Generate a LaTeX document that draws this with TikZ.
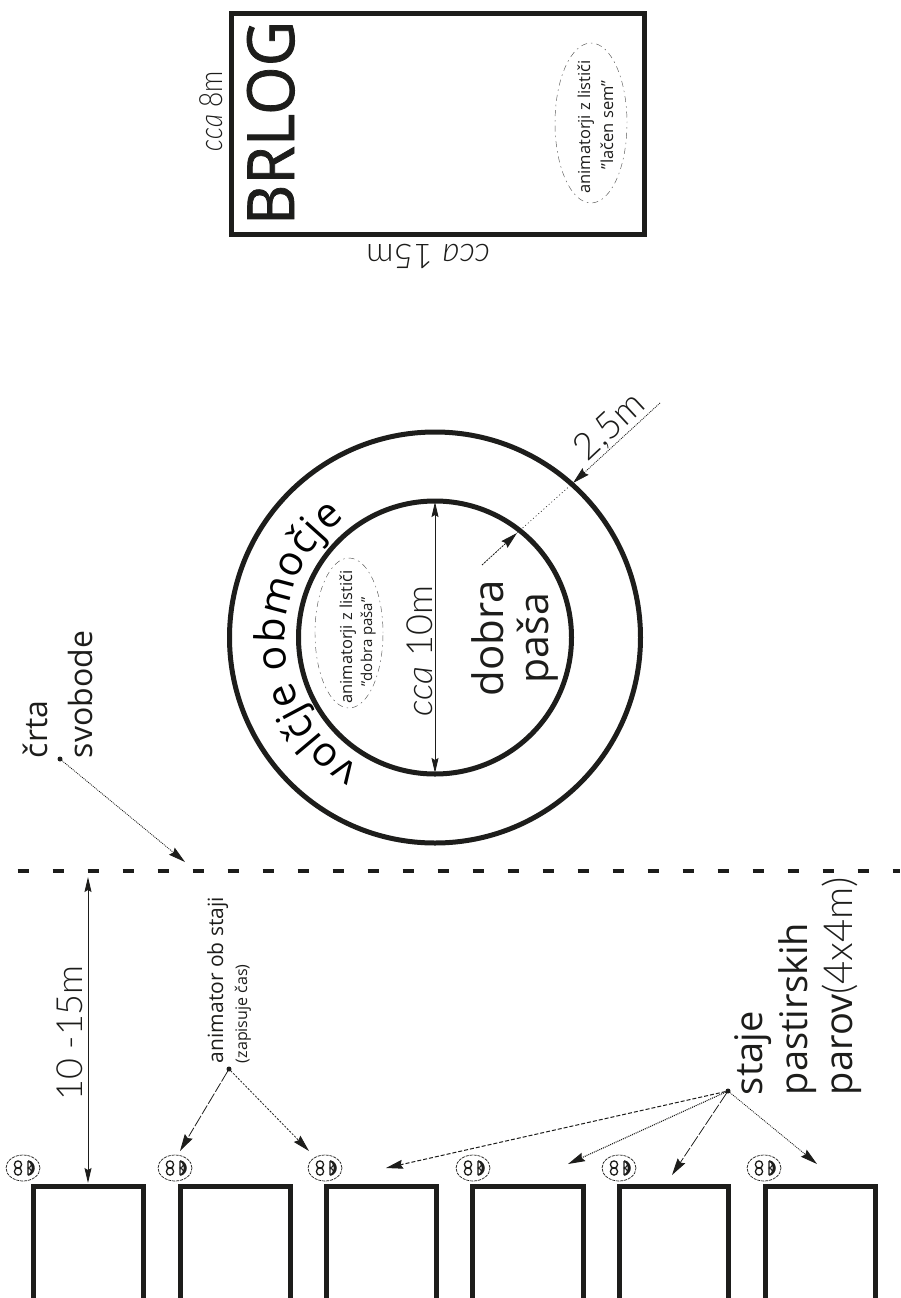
\documentclass[tikz,border=0pt]{standalone}
\usepackage{fontspec}
\usepackage{graphicx}
\setmainfont{Open Sans}
\newfontfamily\lt{Lato Light}
\newfontfamily\hv[FakeBold=1.2]{Open Sans}
\usetikzlibrary{arrows.meta,shapes.geometric,decorations.text}
\definecolor{ink}{HTML}{1D1D1B}
\newcommand{\fs}[1]{\fontsize{#1pt}{#1pt}\selectfont}
\tikzset{
  x=1pt,y=1pt,
  every node/.style={inner sep=0,outer sep=0,text=ink},
  heavy/.style={draw=ink,line width=5pt},
  stable/.style={heavy,rectangle,anchor=north,minimum width=110pt,minimum height=125pt},
  ring/.style={heavy,circle},
  tag/.style={rotate=90,anchor=base west},
  midtag/.style={rotate=90,anchor=base},
  dot/.style={circle,fill=ink,minimum size=5pt},
  tip/.style={-{Stealth[length=17pt,width=9pt,inset=2pt]}},
  twotip/.style={{Stealth[length=15pt,width=7pt,inset=2pt]}-{Stealth[length=15pt,width=7pt,inset=2pt]}},
  thin line/.style={draw=ink,line width=.8pt},
  dots/.style={thin line,dash pattern=on 1pt off 1pt},
  dashes/.style={thin line,dash pattern=on 4pt off 2pt},
  long/.style={thin line,dash pattern=on 12pt off 2pt on 10pt off 2pt},
  cloud/.style={draw=ink!75,line width=.45pt,ellipse,dash pattern=on 1.5pt off 4pt on 6pt off 4pt},
  pics/smile/.style={code={
    \draw[ink,line width=.7pt,dash pattern=on 3pt off 1pt] (0,0) ellipse (17pt and 13pt);
    \draw[ink,line width=1.3pt] (-5,3.5) circle (3.6pt) (-5,-3.5) circle (3.6pt);
    \fill[ink] (5,8) .. controls (14,6) and (14,-6) .. (5,-8) .. controls (10,-3) and (10,3) .. (5,8) -- cycle;
    \draw[ink,line width=1.1pt] (5,7) -- (5,-7) (5,7) .. controls (10,5) and (9,1) .. (5,0) .. controls (9,-1) and (10,-5) .. (5,-7);
  }}
}
\begin{document}
\begin{tikzpicture}
\useasboundingbox (0,0) rectangle (900,-1298);
\clip (0,0) rectangle (900,-1298);

% den
\node[heavy,rectangle,minimum width=413pt,minimum height=221pt] (den) at (438,-124) {};
\node[midtag] (brlog) at (294,-123) {\hv\fs{65}\scalebox{.96}[1]{BRLOG}};
\node[midtag] (den8) at (222,-111) {\lt\fs{32}\scalebox{.82}[1]{{\itshape cca} 8m}};
\node[rotate=180,anchor=center] (den15) at (428,-256) {\lt\fs{34}{\itshape cca} 15m};
\node[cloud,minimum width=72pt,minimum height=160pt] (cloudA) at (591,-123) {};
\node[midtag] (cloudAa) at (590,-127) {\fs{16.5}animatorji z lističi};
\node[midtag] (cloudAb) at (613,-125) {\fs{16.5}"lačen sem"};

% rings
\node[ring,minimum size=411pt] (outer) at (435,-637.5) {};
\node[ring,minimum size=273pt] (inner) at (435,-637.5) {};
\path[decorate,decoration={text along path,text align={fit to path},
  text={|\fs{41}|volčje območje}}]
  (435,-637.5) ++(240:150pt) arc[start angle=240,end angle=127,radius=150pt];
\node[cloud,minimum width=68pt,minimum height=150pt] (cloudB) at (349,-633) {};
\node[midtag] (cloudBa) at (352,-637) {\fs{16.5}animatorji z lističi};
\node[midtag] (cloudBb) at (372,-642) {\fs{15}"dobra paša"};
\node[midtag] (ten) at (432,-651) {\lt\fs{36}{\itshape cca} 10m};
\node[midtag] (dobra) at (503,-638) {\fs{42}dobra};
\node[midtag] (pasa) at (548,-638) {\fs{41}paša};
\draw[thin line,twotip] ([yshift=-1pt]inner.north) -- ([yshift=1pt]inner.south);

\coordinate (rFar) at (660,-403);
\coordinate (rA) at (573,-483);
\coordinate (rB) at (517,-533);
\coordinate (rNear) at (482,-565);
\draw[dots,tip] (rFar) -- (rA);
\draw[dots,line width=.6pt,dash pattern=on 1pt off 2.5pt] (rA) -- (rB);
\draw[dashes,dash pattern=on 2pt off 1pt,tip] (rNear) -- (rB);
\node[rotate=43,anchor=center] (rlabel) at (610,-427) {\lt\fs{37}2,5m};

% freedom line
\coordinate (lineL) at (17.5,-871);
\coordinate (lineR) at (900,-871);
\draw[ink,line width=4pt,dash pattern=on 11pt off 24pt] (lineL) -- (lineR);
\node[tag] (crta) at (47,-758) {\fs{32}črta};
\node[tag] (svobode) at (92,-758) {\fs{32}svobode};
\node[dot] (dotA) at (60,-759) {};
\coordinate (lineHit) at (185,-862);
\draw[dots,tip] (dotA) -- (lineHit);

% stables
\node[stable] (s1) at (88.5,-1186) {};
\node[stable] (s2) at (235,-1186) {};
\node[stable] (s3) at (381,-1186) {};
\node[stable,minimum width=111pt] (s4) at (527.5,-1186) {};
\node[stable,minimum width=109pt] (s5) at (673.5,-1186) {};
\node[stable] (s6) at (820,-1186) {};
\pic at (23,-1168) {smile};
\pic at (175,-1168) {smile};
\pic at (325,-1168) {smile};
\pic at (473,-1168) {smile};
\pic at (619,-1168) {smile};
\pic at (764,-1168) {smile};

% distance
\coordinate (dTop) at (88,-877);
\draw[thin line,line width=.9pt,twotip] (dTop) -- ([yshift=3pt]s1.north -| dTop);
\node[midtag] (dist) at (82,-1033) {\lt\fs{36}10 -15m};

% animator
\node[tag] (anim) at (223,-1063) {\fs{21}animator ob staji};
\node[tag] (zap) at (247,-1063) {\fs{16}(zapisuje čas)};
\node[dot] (dotB) at (229,-1069) {};
\coordinate (aL) at (180,-1151);
\coordinate (aR) at (309,-1151);
\draw[long,tip] (dotB) -- (aL);
\draw[dashes,dash pattern=on 2pt off 1.5pt,tip] (dotB) -- (aR);

% stajes
\node[tag] (staje) at (762,-1095) {\fs{38}staje};
\node[tag] (past) at (807,-1095) {\fs{38}pastirskih};
\node[tag] (parov) at (852,-1095) {\fs{38}parov{\lt\fs{40}(4x4m)}};
\node[dot] (dotC) at (728,-1091) {};
\coordinate (cA) at (386,-1168);
\coordinate (cB) at (568,-1164);
\coordinate (cC) at (672,-1175);
\coordinate (cD) at (817,-1164);
\draw[dashes,line width=1pt,tip] (dotC) -- (cA);
\draw[dots,line width=1.1pt,tip] (dotC) -- (cB);
\draw[long,tip] (dotC) -- (cC);
\draw[dots,tip] (dotC) -- (cD);
\end{tikzpicture}
\end{document}
